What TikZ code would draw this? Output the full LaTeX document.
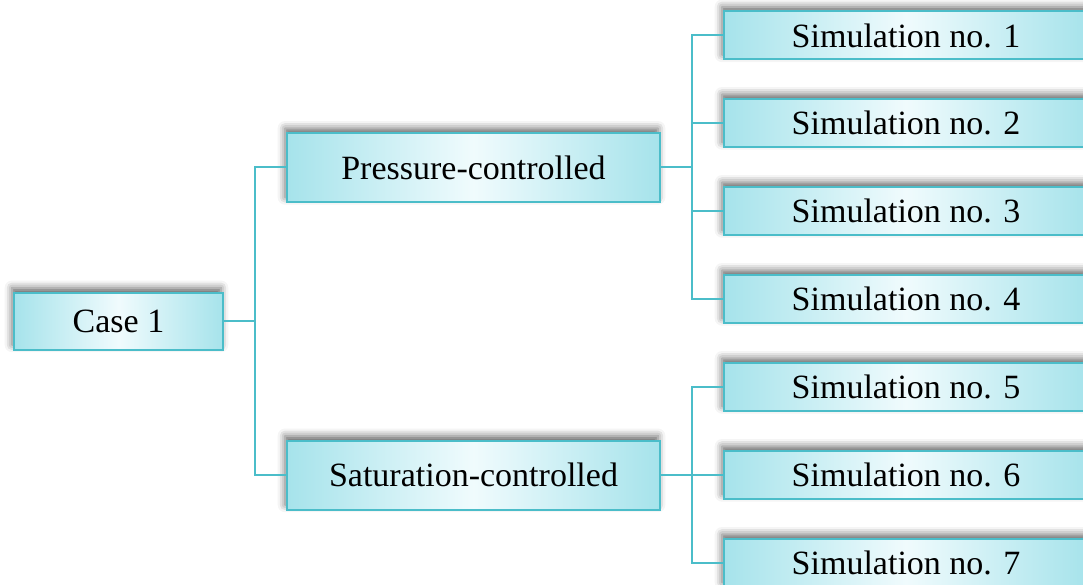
\documentclass[tikz,border=0pt]{standalone}
\usepackage{fontspec}
\setmainfont{Liberation Serif}
\usetikzlibrary{shadows.blur}
\definecolor{bordc}{HTML}{4BBDC9}
\definecolor{edgec}{HTML}{A6E3EB}
\definecolor{midc}{HTML}{F0FBFD}
\tikzset{
  box/.style={draw=bordc, line width=1.5pt, left color=edgec, right color=edgec, middle color=midc,
    inner sep=0pt, font=\fontsize{25.5}{30}\selectfont, text=black,
    blur shadow={shadow xshift=-1.5pt, shadow yshift=3.5pt, shadow blur radius=5.5pt, shadow opacity=60}},
  casebox/.style={box, minimum width=156.75pt, minimum height=42.75pt},
  midbox/.style={box, minimum width=279.75pt, minimum height=51.75pt},
  simbox/.style={box, minimum width=273pt, minimum height=36pt},
  conn/.style={draw=bordc, line width=1.5pt}
}
\begin{document}
\begin{tikzpicture}[x=0.75pt,y=-0.75pt]
\useasboundingbox (0,0) rectangle (1083,585);
\node[casebox] (case) at (118.5,321) {Case 1};
\node[midbox] (pc) at (473.5,167.5) {Pressure-controlled};
\node[midbox] (sc) at (473.5,475) {Saturation-controlled};
\node[simbox] (s1) at (906,35.5) {Simulation no. 1};
\node[simbox] (s2) at (906,123) {Simulation no. 2};
\node[simbox] (s3) at (906,211) {Simulation no. 3};
\node[simbox] (s4) at (906,299) {Simulation no. 4};
\node[simbox] (s5) at (906,387) {Simulation no. 5};
\node[simbox] (s6) at (906,475) {Simulation no. 6};
\node[simbox] (s7) at (906,563) {Simulation no. 7};
\coordinate (j1) at (255,321);
\coordinate (j2) at (692,167.5);
\coordinate (j3) at (692,475);
\draw[conn] (case.east) -- (j1);
\draw[conn] (pc.west) -| (j1) |- (sc.west);
\draw[conn] (pc.east) -- (j2);
\draw[conn] (s1.west) -| (j2) |- (s4.west);
\draw[conn] (j2) |- (s2.west);
\draw[conn] (j2) |- (s3.west);
\draw[conn] (sc.east) -- (s6.west);
\draw[conn] (s5.west) -| (j3) |- (s7.west);
\end{tikzpicture}
\end{document}
